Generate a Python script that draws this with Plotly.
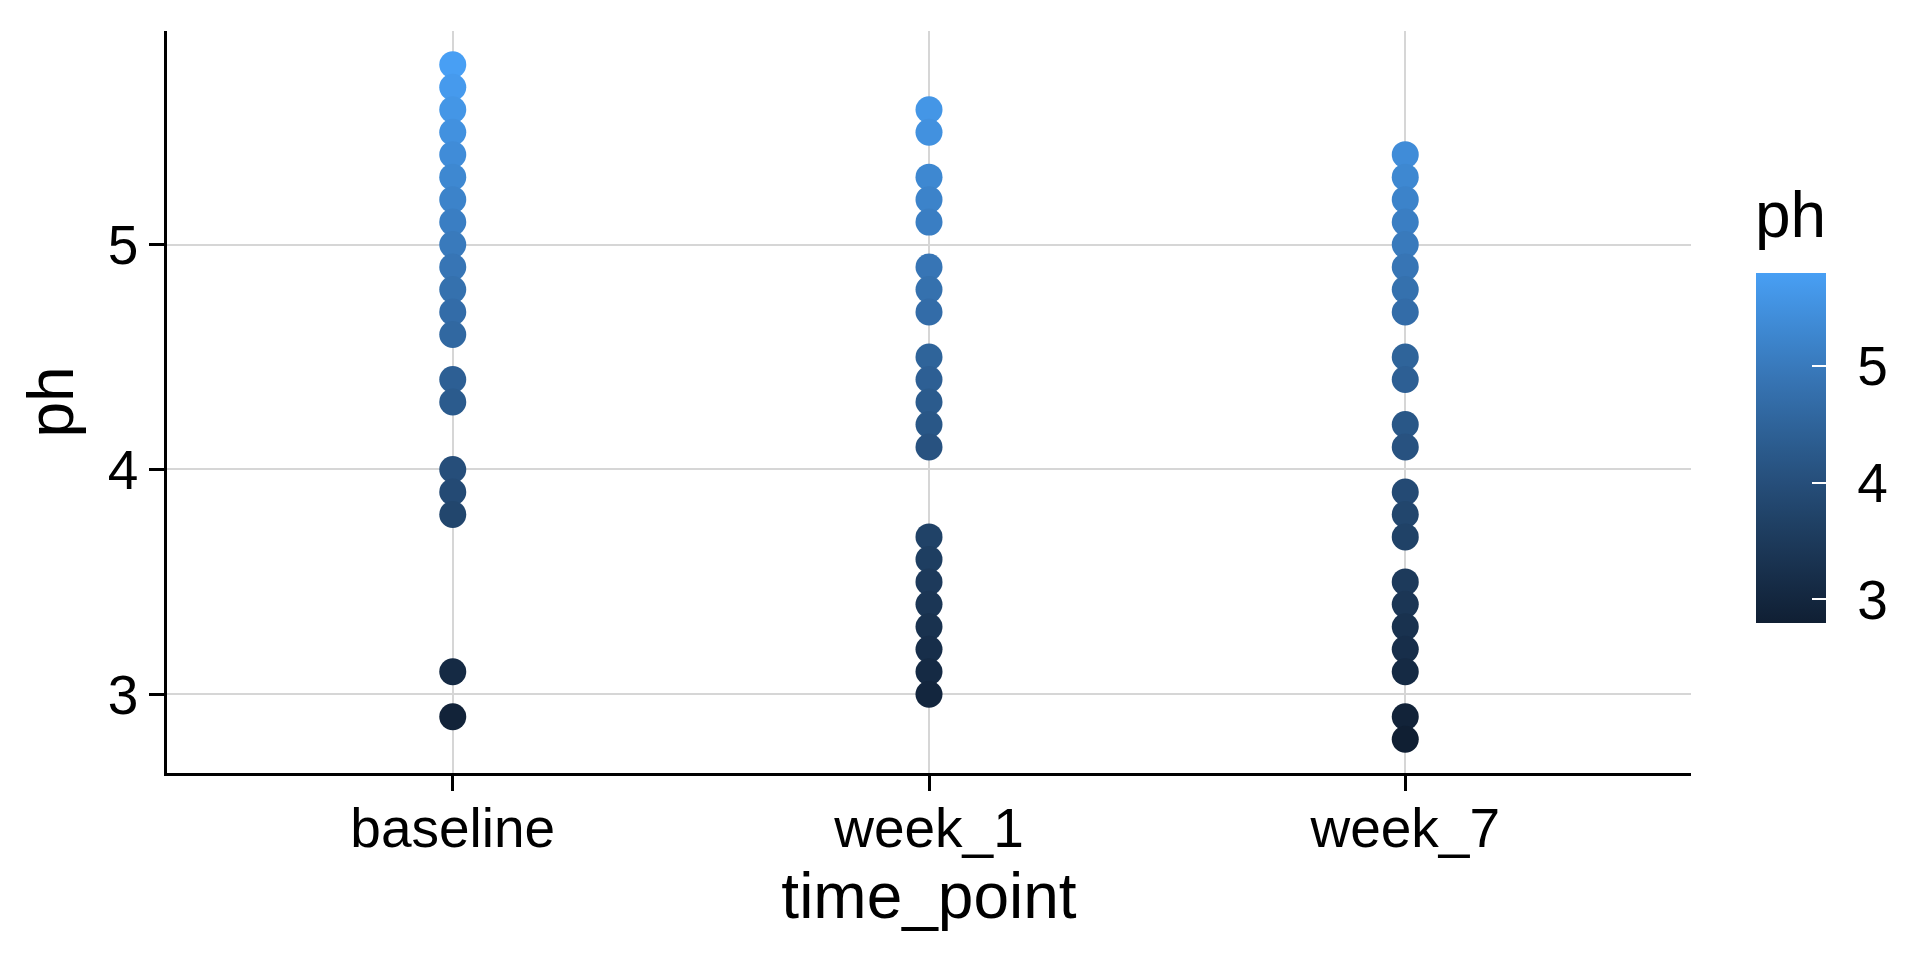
import plotly.graph_objects as go

# ---- data ----
categories = ["baseline", "week_1", "week_7"]
baseline_ph = [5.8, 5.7, 5.6, 5.5, 5.4, 5.3, 5.2, 5.1, 5.0, 4.9, 4.8, 4.7, 4.6,
               4.4, 4.3, 4.0, 3.9, 3.8, 3.1, 2.9]
week_1_ph = [5.6, 5.5, 5.3, 5.2, 5.1, 4.9, 4.8, 4.7, 4.5, 4.4, 4.3, 4.2, 4.1,
             3.7, 3.6, 3.5, 3.4, 3.3, 3.2, 3.1, 3.0]
week_7_ph = [5.4, 5.3, 5.2, 5.1, 5.0, 4.9, 4.8, 4.7, 4.5, 4.4, 4.2, 4.1,
             3.9, 3.8, 3.7, 3.5, 3.4, 3.3, 3.2, 3.1, 2.9, 2.8]
y_ticks = [3, 4, 5]

series = {"baseline": baseline_ph, "week_1": week_1_ph, "week_7": week_7_ph}
xs, ys = [], []
for cat in categories:
    for v in series[cat]:
        xs.append(cat)
        ys.append(v)


# gradient dark navy -> light blue, interpolated in Lab space (like ggplot2)
def _srgb_to_lin(c):
    c = c / 255.0
    return c / 12.92 if c <= 0.04045 else ((c + 0.055) / 1.055) ** 2.4


def _lin_to_srgb(c):
    c = max(0.0, min(1.0, c))
    v = 12.92 * c if c <= 0.0031308 else 1.055 * c ** (1 / 2.4) - 0.055
    return int(round(v * 255))


def _hex_to_lab(h):
    r, g, b = [_srgb_to_lin(int(h[i:i + 2], 16)) for i in (1, 3, 5)]
    X = (0.4124 * r + 0.3576 * g + 0.1805 * b) / 0.95047
    Y = (0.2126 * r + 0.7152 * g + 0.0722 * b) / 1.0
    Z = (0.0193 * r + 0.1192 * g + 0.9505 * b) / 1.08883

    def f(t):
        return t ** (1 / 3) if t > 216 / 24389 else (24389 / 27 * t + 16) / 116
    fx, fy, fz = f(X), f(Y), f(Z)
    return 116 * fy - 16, 500 * (fx - fy), 200 * (fy - fz)


def _lab_to_rgb(L, a, b):
    fy = (L + 16) / 116
    fx = fy + a / 500
    fz = fy - b / 200

    def finv(t):
        return t ** 3 if t ** 3 > 216 / 24389 else (116 * t - 16) / (24389 / 27)
    X, Y, Z = finv(fx) * 0.95047, finv(fy), finv(fz) * 1.08883
    r = 3.2406 * X - 1.5372 * Y - 0.4986 * Z
    g = -0.9689 * X + 1.8758 * Y + 0.0415 * Z
    bb = 0.0557 * X - 0.2040 * Y + 1.0570 * Z
    return "rgb(%d,%d,%d)" % (_lin_to_srgb(r), _lin_to_srgb(g), _lin_to_srgb(bb))


lo, hi = _hex_to_lab("#101F33"), _hex_to_lab("#489FF4")
colorscale = []
n = 10
for i in range(n + 1):
    t = i / n
    colorscale.append([t, _lab_to_rgb(*[lo[k] + (hi[k] - lo[k]) * t for k in range(3)])])

FONT = "Liberation Sans, Arial, sans-serif"
W, H = 1912, 952  # page body has an 8px margin inside the 1920x960 window

fig = go.Figure()
fig.add_trace(go.Scatter(
    x=xs, y=ys, mode="markers",
    marker=dict(
        size=27, color=ys, colorscale=colorscale,
        cmin=min(ys), cmax=max(ys),
        line=dict(width=0),
        colorbar=dict(
            tickvals=y_ticks, ticktext=["\u00a0\u200a" + str(t) for t in y_ticks],
            tickfont=dict(size=55, color="black", family=FONT),
            ticks="inside", ticklen=14, tickwidth=1.5, tickcolor="white",
            outlinewidth=0, thickness=70, thicknessmode="pixels",
            len=350, lenmode="pixels",
            xref="container", x=1747.7 / W, xanchor="left", xpad=0,
            yref="container", y=1 - 339.5 / H, yanchor="top", ypad=0,
        ),
    ),
    showlegend=False,
    hoverinfo="x+y",
))

fig.add_annotation(
    text="ph", xref="paper", yref="paper", showarrow=False,
    x=(1745 - 158.5) / (W - 158.5 - 229), xanchor="left",
    y=1 + (23 - 207) / (H - 23 - 187), yanchor="middle",
    font=dict(size=64, color="black", family=FONT),
)

fig.update_layout(
    width=W, height=H,
    paper_bgcolor="white", plot_bgcolor="white",
    margin=dict(l=158.5, r=229, t=23, b=187, autoexpand=False),
    font=dict(family=FONT, color="black"),
    xaxis=dict(
        type="category", categoryorder="array", categoryarray=categories,
        range=[-0.6, 2.6],
        title=dict(text="time_point", font=dict(size=64, color="black"), standoff=16),
        tickfont=dict(size=55, color="black"),
        ticklabelstandoff=-10,
        showline=True, linecolor="black", linewidth=2.5,
        ticks="outside", ticklen=15, tickwidth=2.5, tickcolor="black",
        showgrid=True, gridcolor="#D6D6D6", gridwidth=2,
        zeroline=False, automargin=False,
    ),
    yaxis=dict(
        range=[2.65, 5.95],
        tickvals=y_ticks,
        title=dict(text="ph", font=dict(size=64, color="black"), standoff=14),
        tickfont=dict(size=55, color="black"),
        showline=True, linecolor="black", linewidth=2.5,
        ticks="outside", ticklen=15, tickwidth=2.5, tickcolor="black",
        showgrid=True, gridcolor="#D6D6D6", gridwidth=2,
        zeroline=False, automargin=False,
    ),
)

fig.write_html("out.html")
